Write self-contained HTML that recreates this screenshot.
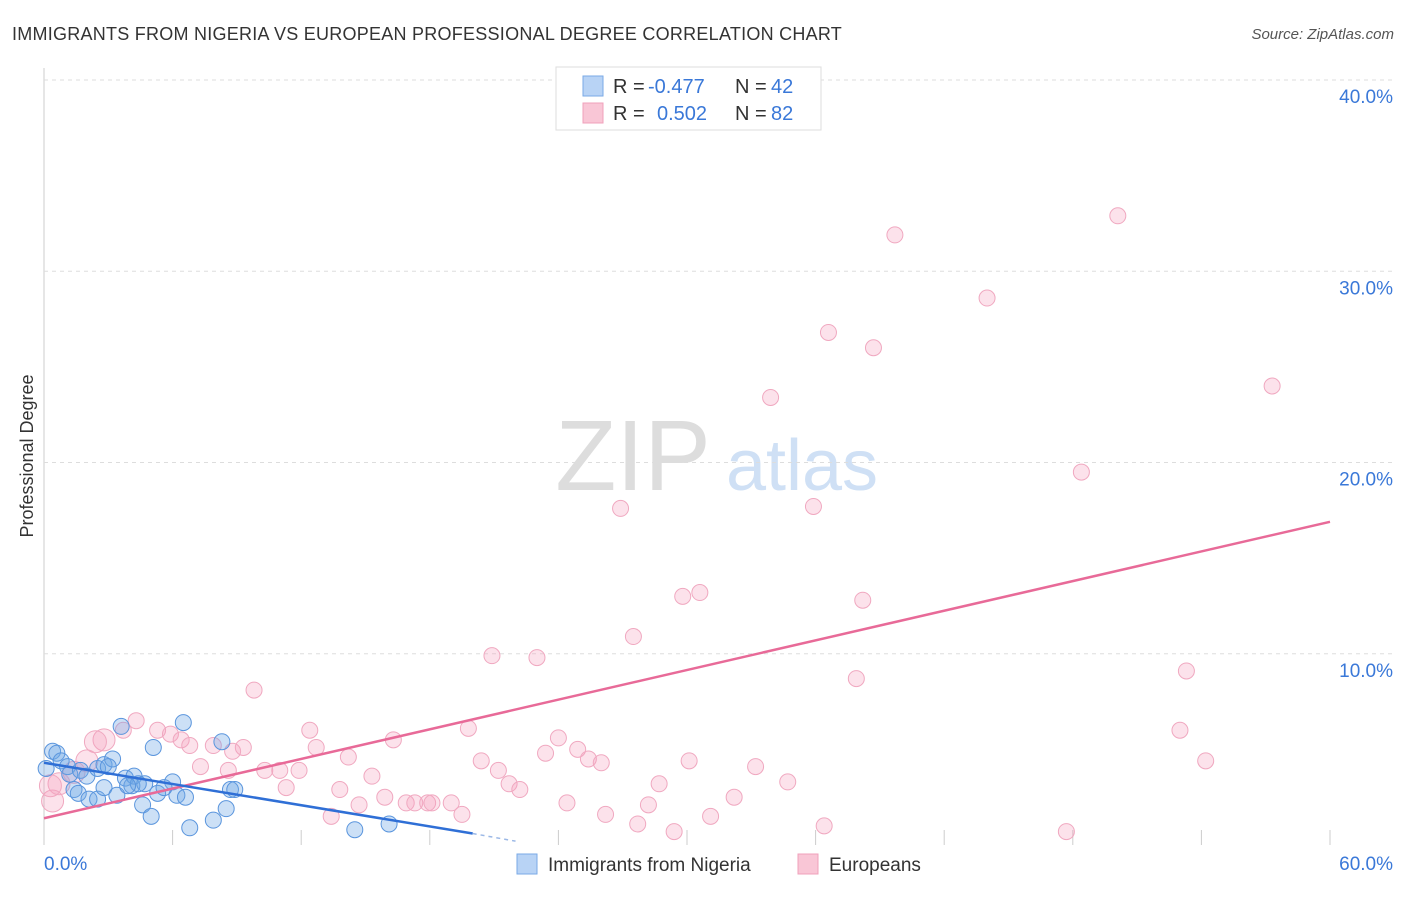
<!DOCTYPE html>
<html><head><meta charset="utf-8"><style>
body{margin:0;background:#fff;font-family:"Liberation Sans",sans-serif;}
svg text{font-family:"Liberation Sans",sans-serif;}
</style></head><body>
<svg id="chart" width="1406" height="892">
<text x="12" y="40" font-size="18" fill="#333" letter-spacing="0.25">IMMIGRANTS FROM NIGERIA VS EUROPEAN PROFESSIONAL DEGREE CORRELATION CHART</text>
<text x="1394" y="39" font-size="15" fill="#555" font-style="italic" text-anchor="end">Source: ZipAtlas.com</text>
<text x="33" y="456" font-size="18" fill="#333" text-anchor="middle" transform="rotate(-90 33 456)">Professional Degree</text>
<g>
<text x="633" y="490" font-size="100" fill="#ddd" font-family="Liberation Serif" text-anchor="middle">ZIP</text>
<text x="802" y="490" font-size="72" fill="#cfe0f5" text-anchor="middle">atlas</text>
</g>
<g id="grid"></g>
<g id="marks"></g>
<g>
<rect x="556" y="67" width="265" height="63" fill="#fff" stroke="#ddd"/>
<rect x="583" y="76" width="20" height="20" fill="#b8d3f5" stroke="#7aaae6"/>
<rect x="583" y="103" width="20" height="20" fill="#f9c6d6" stroke="#f0a0bb"/>
<text x="613" y="93" font-size="20" fill="#333">R =</text>
<text x="648" y="93" font-size="20" fill="#3a78d8">-0.477</text>
<text x="735" y="93" font-size="20" fill="#333">N =</text>
<text x="771" y="93" font-size="20" fill="#3a78d8">42</text>
<text x="613" y="120" font-size="20" fill="#333">R =</text>
<text x="657" y="120" font-size="20" fill="#3a78d8">0.502</text>
<text x="735" y="120" font-size="20" fill="#333">N =</text>
<text x="771" y="120" font-size="20" fill="#3a78d8">82</text>
</g>
<g>
<rect x="517" y="854" width="20" height="20" fill="#b8d3f5" stroke="#7aaae6"/>
<text x="548" y="871" font-size="19" fill="#333">Immigrants from Nigeria</text>
<rect x="798" y="854" width="20" height="20" fill="#f9c6d6" stroke="#f0a0bb"/>
<text x="829" y="871" font-size="19" fill="#333">Europeans</text>
</g>
</svg>
<script>
const xTicks=[0,60];
const yTicks=[10,20,30,40];
const blueX=[0.4,0.6,0.1,0.8,1.1,1.2,1.7,2.0,1.4,1.6,2.1,2.5,2.5,2.8,3.2,3.0,3.6,2.8,3.4,3.8,4.1,4.2,4.7,5.1,5.3,4.6,5.0,6.0,6.2,6.6,6.5,6.8,7.9,8.3,8.5,8.7,8.9,14.5,16.1,4.4,3.9,5.6];
const blueY=[4.9,4.8,4.0,4.4,4.1,3.7,3.9,3.6,2.9,2.7,2.4,2.4,4.0,4.2,4.5,4.1,6.2,3.0,2.6,3.5,3.1,3.6,3.2,5.1,2.7,2.1,1.5,3.3,2.6,2.5,6.4,0.9,1.3,5.4,1.9,2.9,2.9,0.8,1.1,3.2,3.1,3.0];
const pinkX=[50.1,39.7,44.0,36.6,38.7,57.3,33.9,48.4,26.9,35.9,30.6,29.8,38.2,27.5,20.9,23.0,53.3,37.9,9.8,53.0,54.2,12.4,19.8,4.3,3.7,2.8,2.4,5.3,5.9,6.4,6.8,7.9,9.3,8.8,12.7,14.2,16.3,24.0,24.9,23.4,25.4,26.0,30.1,20.4,21.2,33.2,21.7,22.2,28.7,34.7,15.3,15.9,10.3,11.0,11.9,11.3,13.8,8.6,7.3,14.7,16.9,17.3,17.9,18.1,19.0,24.4,28.2,32.2,26.2,27.7,29.4,31.1,36.4,47.7,13.4,19.5,1.4,2.0,0.7,0.4,0.3];
const pinkY=[32.9,31.9,28.6,26.8,26.0,24.0,23.4,19.5,17.6,17.7,13.2,13.0,12.8,10.9,9.9,9.8,9.1,8.7,8.1,6.0,4.4,6.0,6.1,6.5,6.0,5.5,5.4,6.0,5.8,5.5,5.2,5.2,5.1,4.9,5.1,4.6,5.5,5.6,5.0,4.8,4.5,4.3,4.4,4.4,3.9,4.1,3.2,2.9,3.2,3.3,3.6,2.5,3.9,3.9,3.9,3.0,2.9,3.9,4.1,2.1,2.2,2.2,2.2,2.2,2.2,2.2,2.1,2.5,1.6,1.1,0.7,1.5,1.0,0.7,1.5,1.6,3.8,4.4,3.2,2.3,3.1];
const blueLine=[[0,4.3],[20,0.6]];
const blueDash=[[20,0.6],[22,0.2]];
const pinkLine=[[0,1.4],[60,16.9]];
const X=v=>44+v/60*1286, Y=v=>845-v*19.125;
const NS='http://www.w3.org/2000/svg';
const grid=document.getElementById('grid'), marks=document.getElementById('marks');
function mk(tag,attrs,parent){const e=document.createElementNS(NS,tag);for(const k in attrs)e.setAttribute(k,attrs[k]);parent.appendChild(e);return e;}
let ax=mk('line',{x1:44,y1:68,x2:44,y2:845,stroke:'#ccc'},grid);


for(let i=0;i<=10;i++){const t=mk('line',{x1:X(i*6),y1:830,x2:X(i*6),y2:845,stroke:'#ccc'},grid);

}
yTicks.forEach(v=>{const g=mk('line',{x1:44,y1:Y(v),x2:1394,y2:Y(v),stroke:'#ddd','stroke-dasharray':'4,4'},grid);


const t=mk('text',{x:1393,y:Y(v)+23,'font-size':19,fill:'#3a78d8','text-anchor':'end'},grid);t.textContent=v.toFixed(1)+'%';

});
xTicks.forEach((v,i)=>{const t=mk('text',{x:i?1393:44,y:870,'font-size':19,fill:'#3a78d8','text-anchor':i?'end':'start'},grid);t.textContent=v.toFixed(1)+'%';

});
pinkX.forEach((v,i)=>{const c=mk('circle',{cx:X(v),cy:Y(pinkY[i]),r:v<3?11:8,fill:'rgba(245,160,190,0.3)',stroke:'#f0a8c0','stroke-width':1},marks);

});
blueX.forEach((v,i)=>{const c=mk('circle',{cx:X(v),cy:Y(blueY[i]),r:8,fill:'rgba(110,165,230,0.35)',stroke:'#5a95dd','stroke-width':1},marks);

});
let l=mk('line',{x1:X(pinkLine[0][0]),y1:Y(pinkLine[0][1]),x2:X(pinkLine[1][0]),y2:Y(pinkLine[1][1]),stroke:'#e86a98','stroke-width':2.5},marks);


l=mk('line',{x1:X(blueLine[0][0]),y1:Y(blueLine[0][1]),x2:X(blueLine[1][0]),y2:Y(blueLine[1][1]),stroke:'#2f6fd6','stroke-width':2.5},marks);


l=mk('line',{x1:X(blueDash[0][0]),y1:Y(blueDash[0][1]),x2:X(blueDash[1][0]),y2:Y(blueDash[1][1]),stroke:'#9bb8e6','stroke-width':1.5,'stroke-dasharray':'4,4'},marks);


</script>
</body></html>
